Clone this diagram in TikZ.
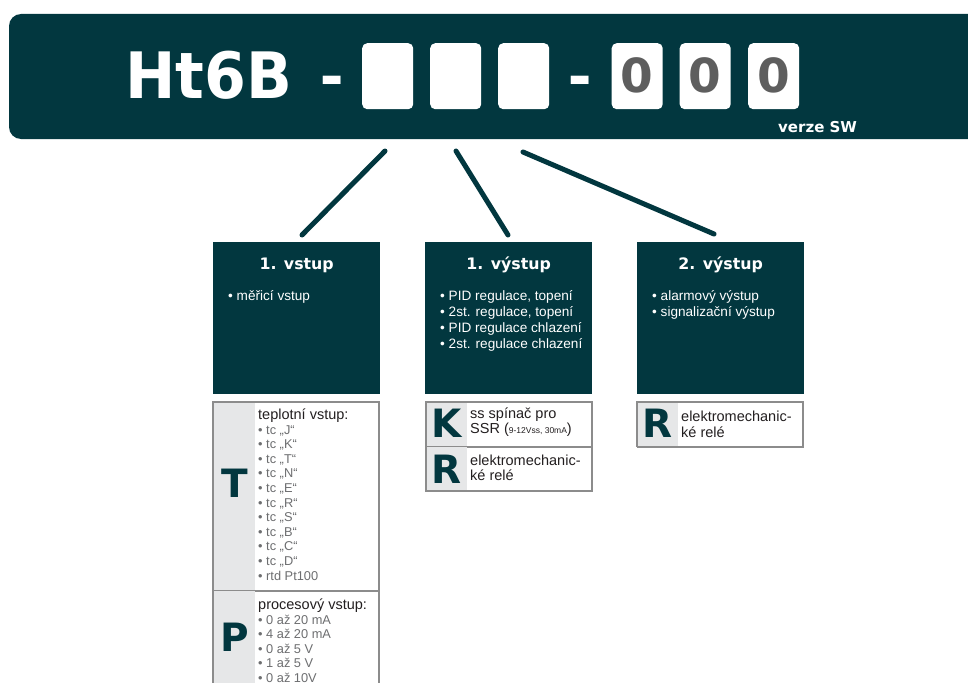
\documentclass[tikz,border=0pt]{standalone}
\usepackage{fontspec}
\setmainfont{Liberation Sans}
\newfontfamily\hfont{DejaVu Sans}
\definecolor{petrol}{HTML}{02373F}
\definecolor{colgrey}{HTML}{E6E7E8}
\definecolor{boxgrey}{HTML}{8C8C8C}
\definecolor{itemgrey}{HTML}{6D6E70}
\definecolor{digitgrey}{HTML}{5E5E5E}
\definecolor{txtblack}{HTML}{231F20}
\tikzset{
  band/.style={fill=petrol, draw=none, rounded corners=12pt},
  slot/.style={fill=white, rounded corners=5pt, minimum width=51pt, minimum height=66pt, inner sep=0pt, anchor=north west},
  darkbox/.style={fill=petrol, minimum width=167pt, minimum height=152pt, inner sep=0pt, anchor=north west},
  optbox/.style={draw=boxgrey, line width=1.4pt, fill=white, inner sep=0pt, anchor=north west, minimum width=166pt},
  colfill/.style={fill=colgrey},
  conn/.style={draw=petrol, line width=5pt, line cap=round},
  boxtitle/.style={anchor=base, inner sep=0pt, text=white, font=\hfont\bfseries\fontsize{15.8}{18}\selectfont},
  bul/.style={anchor=base west, inner sep=0pt, text=white, font=\fontsize{13.6}{16}\selectfont},
  bigletter/.style={anchor=base, inner sep=0pt, text=petrol, font=\hfont\bfseries\fontsize{39}{40}\selectfont},
  opthead/.style={anchor=base west, inner sep=0pt, text=txtblack, font=\fontsize{14.5}{16}\selectfont},
  item/.style={anchor=base west, inner sep=0pt, text=itemgrey, font=\fontsize{12.8}{14}\selectfont},
  digit/.style={anchor=base, inner sep=0pt, text=digitgrey, font=\hfont\bfseries\fontsize{47}{48}\selectfont},
  dashtxt/.style={anchor=base, inner sep=0pt, text=white, font=\bfseries\fontsize{70}{70}\selectfont}
}
\begin{document}
\begin{tikzpicture}[x=1pt,y=-1pt]
\useasboundingbox (0,0) rectangle (968,682);
% header band
\path[band] (9,14) rectangle (1000,139);
\node[anchor=base west, inner sep=0pt, text=white, font=\hfont\bfseries\fontsize{64}{64}\selectfont] (ht) at (125,99) {\scalebox{0.94}[1]{Ht6B}};
\node[dashtxt] (d1) at (332,99) {-};
\node[slot] (s1) at (362,43) {};
\node[slot] (s2) at (430,43) {};
\node[slot] (s3) at (498,43) {};
\node[dashtxt] (d2) at (580,99) {-};
\node[slot] (s4) at (611.5,43) {};
\node[slot] (s5) at (679.5,43) {};
\node[slot] (s6) at (748,43) {};
\node[digit] (z1) at (s4.center |- 0,92.5) {0};
\node[digit] (z2) at (s5.center |- 0,92.5) {0};
\node[digit] (z3) at (s6.center |- 0,92.5) {0};
\node[anchor=base west, inner sep=0pt, text=white, font=\hfont\bfseries\fontsize{15}{16}\selectfont] (sw) at (778,132) {verze SW};
% connectors
\coordinate (c1a) at (385,151);
\coordinate (c1b) at (302,235);
\coordinate (c2a) at (456,151);
\coordinate (c2b) at (508,235);
\coordinate (c3a) at (523,152);
\coordinate (c3b) at (714,234);
\draw[conn] (c1a) -- (c1b);
\draw[conn] (c2a) -- (c2b);
\draw[conn] (c3a) -- (c3b);
% dark boxes
\node[darkbox] (in1) at (213,242) {};
\node[darkbox] (out1) at (425,242) {};
\node[darkbox] (out2) at (637,242) {};
\node[boxtitle] at (in1.center |- 0,269) {1. vstup};
\node[boxtitle] at (out1.center |- 0,269) {1. výstup};
\node[boxtitle] at (out2.center |- 0,269) {2. výstup};
\node[bul] at (228,300.5) {• měřicí vstup};
\node[bul] at (440,300) {• PID regulace, topení};
\node[bul] at (440,316) {• 2st. regulace, topení};
\node[bul] at (440,332) {• PID regulace chlazení};
\node[bul] at (440,348) {• 2st. regulace chlazení};
\node[bul] at (652,300) {• alarmový výstup};
\node[bul] at (652,316) {• signalizační výstup};
% T / P option boxes
\node[optbox, minimum height=188.5pt] (optT) at (213,402) {};
\fill[colfill] (213.7,402.7) rectangle (255,590.5);
\node[optbox, minimum height=120pt] (optP) at (213,590.5) {};
\fill[colfill] (213.7,591.2) rectangle (255,720);
\draw[boxgrey, line width=1.4pt] (213,402) rectangle (379,590.5) (213,590.5) rectangle (379,720);
\node[bigletter] (lT) at (235,497) {T};
\node[opthead] at (258,419) {teplotní vstup:};
\foreach \l [count=\i from 0] in {J,K,T,N,E,R,S,B,C,D}
  \node[item] at (258,434+14.6*\i) {• tc „\l“};
\node[item] at (258,580) {• rtd Pt100};
\node[bigletter] (lP) at (235,651) {P};
\node[opthead] at (258,609.5) {procesový vstup:};
\node[item] at (258,624) {• 0 až 20 mA};
\node[item] at (258,638.5) {• 4 až 20 mA};
\node[item] at (258,653) {• 0 až 5 V};
\node[item] at (258,667.5) {• 1 až 5 V};
\node[item] at (258,682) {• 0 až 10V};
% K / R option boxes (1. vystup)
\node[optbox, minimum height=44.5pt] (optK) at (426,402) {};
\fill[colfill] (426.7,402.7) rectangle (467,446.5);
\node[optbox, minimum height=44.5pt] (optR1) at (426,446.5) {};
\fill[colfill] (426.7,447.2) rectangle (467,490.3);
\draw[boxgrey, line width=1.4pt] (426,402) rectangle (592,446.5) rectangle (426,491);
\node[bigletter] (lK) at (447,437) {K};
\node[opthead] at (470,418.5) {ss spínač pro};
\node[opthead] at (470,433.5) {SSR ({\fontsize{8.5}{10}\selectfont 9-12Vss, 30mA})};
\node[bigletter] (lR1) at (447,483) {R};
\node[opthead] at (470,465) {elektromechanic-};
\node[opthead] at (470,480.5) {ké relé};
% R option box (2. vystup)
\node[optbox, minimum height=44.5pt] (optR2) at (637,402) {};
\fill[colfill] (637.7,402.7) rectangle (678,446.2);
\draw[boxgrey, line width=1.4pt] (637,402) rectangle (803,446.5);
\node[bigletter] (lR2) at (658,437.5) {R};
\node[opthead] at (681,421.5) {elektromechanic-};
\node[opthead] at (681,437) {ké relé};
\end{tikzpicture}
\end{document}
